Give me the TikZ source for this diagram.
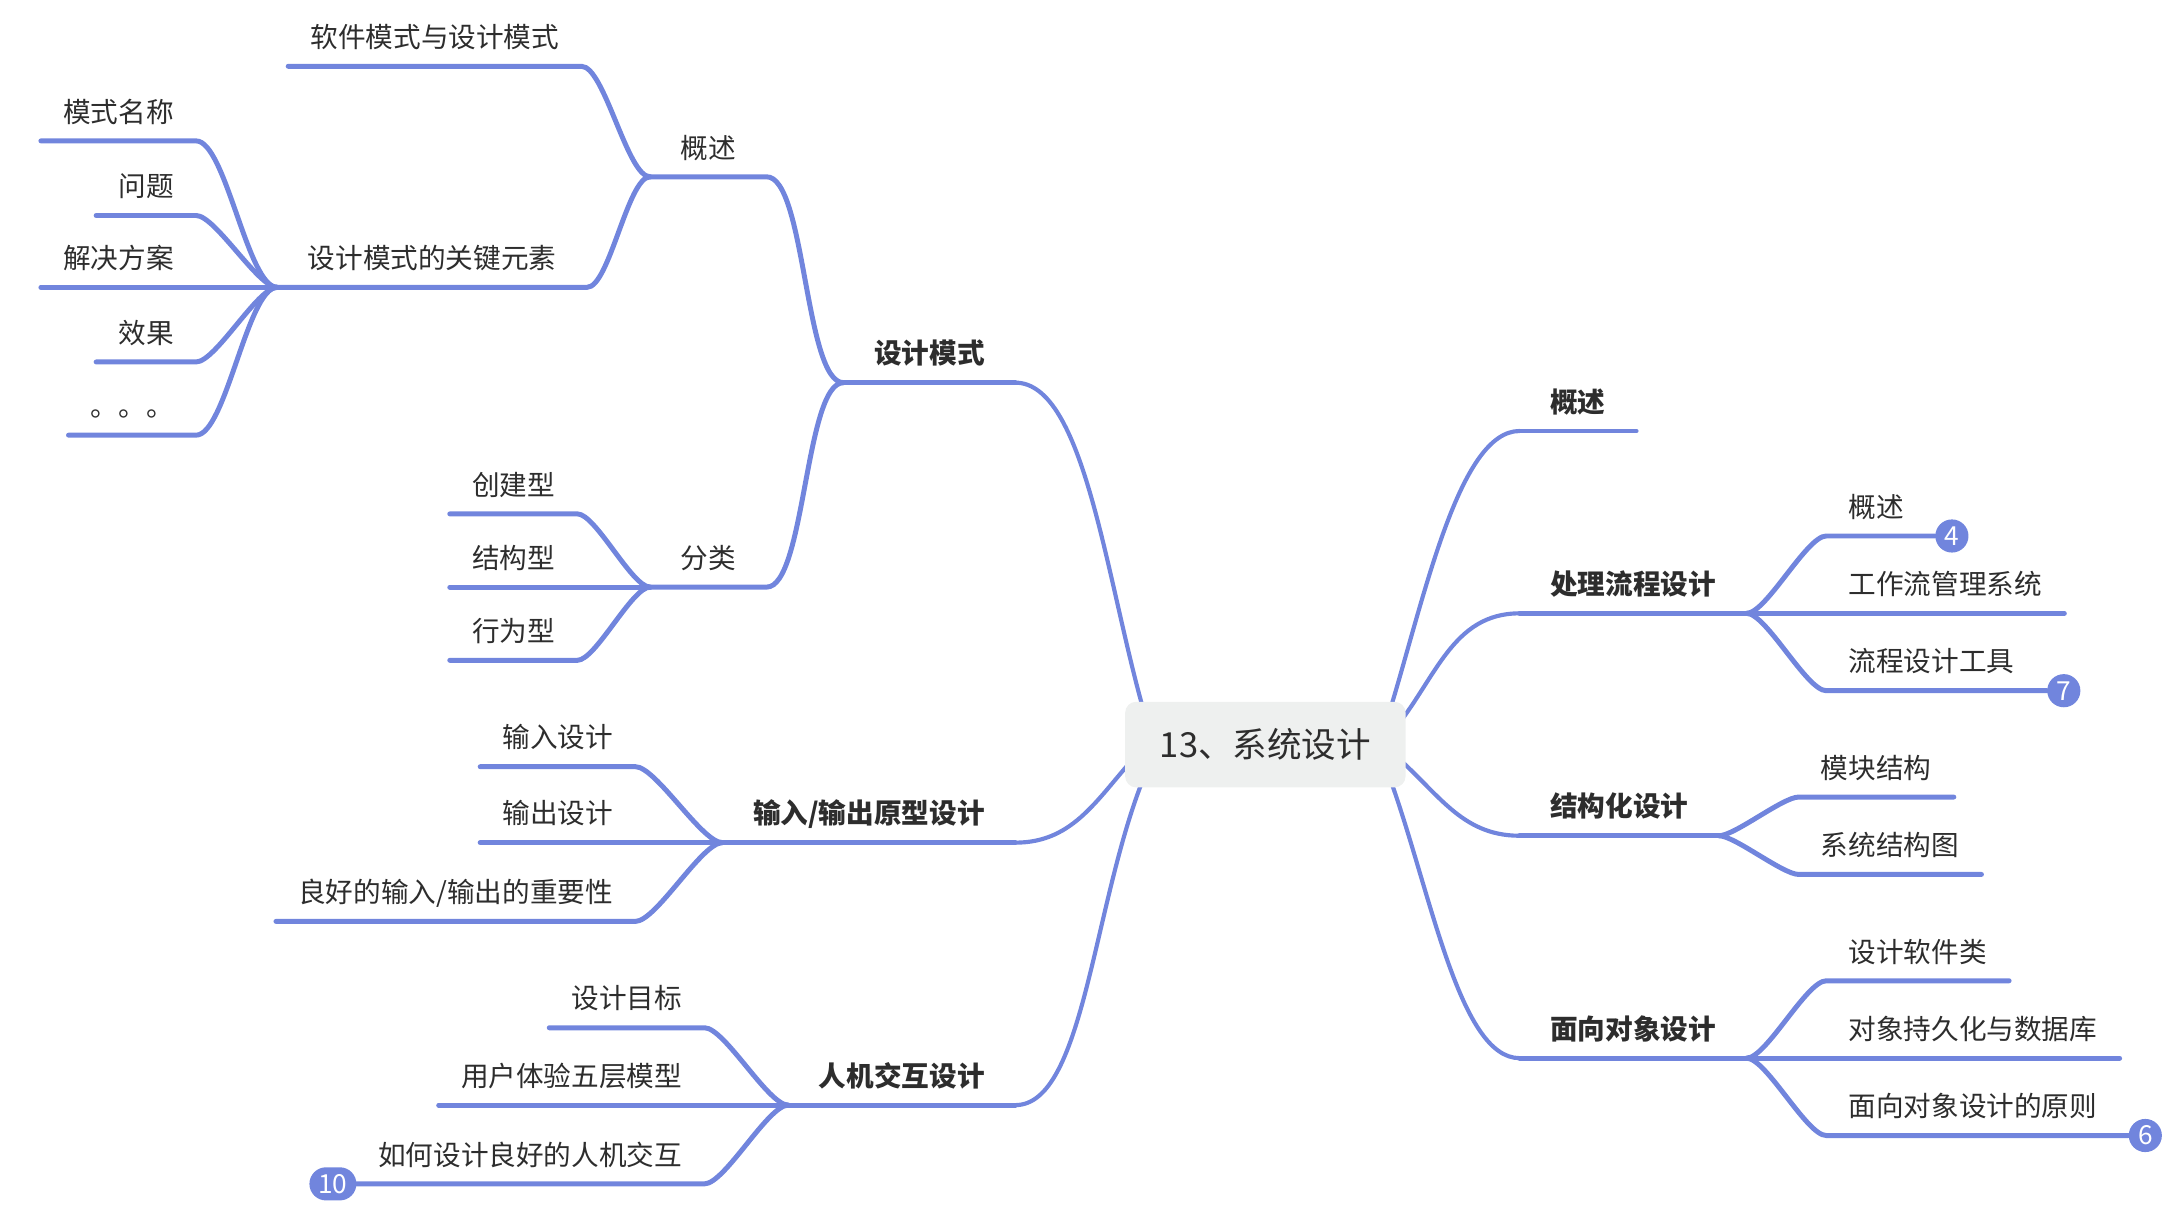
\documentclass[tikz,border=0pt]{standalone}
\usepackage{fontspec}
\setmainfont{Noto Sans CJK SC}
\usepackage{xcolor}
\usepackage{tikz}
\usetikzlibrary{positioning,backgrounds}

\definecolor{mapline}{RGB}{113,133,221}
\definecolor{rootfill}{RGB}{238,240,239}
\definecolor{mapink}{RGB}{45,45,45}

\begin{document}
\begin{tikzpicture}[x=1pt, y=1pt,
    root/.style={rectangle, fill=rootfill, rounded corners=8pt, minimum width=203pt, minimum height=62pt, font=\fontsize{25}{30}\selectfont, text=mapink},
    main/.style={inner xsep=22pt, inner ysep=11pt, text height=17.6pt, text depth=2.4pt, font=\fontsize{20}{24}\selectfont\bfseries, text=mapink},
    sub/.style={main, font=\fontsize{20}{24}\selectfont},
    leaf/.style={sub, inner xsep=16pt},
    link/.style={draw=mapline, line width=3.6pt, line cap=round},
    stem/.style={draw=mapline, line width=3pt, line cap=round},
    lfork/.style={out=0, in=180, looseness=0.45},
    rfork/.style={out=180, in=0, looseness=0.45},
    badge/.style={circle, fill=mapline, text=white, minimum size=24pt, inner sep=0pt, font=\fontsize{19}{19}\selectfont},
  ]
    \useasboundingbox (0,0) rectangle (1568,-879);

    \node[root] (root) at (916,-539) {13、系统设计};

    % Left side
    \node[main, anchor=south east] (dm) at (735,-277) {设计模式};
    \node[sub, anchor=south east] (gs) at (555,-128) {概述};
    \node[leaf, anchor=south east] (rj) at (421,-48) {软件模式与设计模式};
    \node[sub, anchor=south east] (ky) at (425,-208) {设计模式的关键元素};
    \node[leaf, anchor=south east] (mc) at (142,-102) {模式名称};
    \node[leaf, anchor=south east] (wt) at (142,-156) {问题};
    \node[leaf, anchor=south east] (jj) at (142,-208) {解决方案};
    \node[leaf, anchor=south east] (xg) at (142,-262) {效果};
    \node[leaf, anchor=south east] (dd) at (142,-315) {。。。};
    \node[sub, anchor=south east] (fl) at (555,-425) {分类};
    \node[leaf, anchor=south east] (cj) at (418,-372) {创建型};
    \node[leaf, anchor=south east] (jg) at (418,-425) {结构型};
    \node[leaf, anchor=south east] (xw) at (418,-478) {行为型};

    \node[main, anchor=south east] (io) at (735,-610) {输入/输出原型设计};
    \node[leaf, anchor=south east] (sr) at (460,-555) {输入设计};
    \node[leaf, anchor=south east] (sc) at (460,-610) {输出设计};
    \node[leaf, anchor=south east] (zy) at (460,-667) {良好的输入/输出的重要性};

    \node[main, anchor=south east] (hc) at (735,-800) {人机交互设计};
    \node[leaf, anchor=south east] (mb) at (510,-744) {设计目标};
    \node[leaf, anchor=south east] (yh) at (510,-800) {用户体验五层模型};
    \node[leaf, anchor=south east] (rh) at (510,-857) {如何设计良好的人机交互};
    \node[badge, rectangle, rounded corners=12pt, minimum width=34pt] (b10) at (241,-857) {10};

    % Right side
    \node[main, anchor=south west] (ov) at (1100,-312) {概述};
    \node[main, anchor=south west] (lc) at (1100,-444) {处理流程设计};
    \node[leaf, anchor=south west] (lcgs) at (1322,-388) {概述};
    \node[badge] (b4) at (1413,-388) {4};
    \node[leaf, anchor=south west] (gzl) at (1322,-444) {工作流管理系统};
    \node[leaf, anchor=south west] (gj) at (1322,-500) {流程设计工具};
    \node[badge] (b7) at (1494,-500) {7};

    \node[main, anchor=south west] (jgh) at (1100,-605) {结构化设计};
    \node[leaf, anchor=south west] (mk) at (1302,-577) {模块结构};
    \node[leaf, anchor=south west] (xt) at (1302,-633) {系统结构图};

    \node[main, anchor=south west] (mx) at (1100,-766) {面向对象设计};
    \node[leaf, anchor=south west] (rjl) at (1322,-710) {设计软件类};
    \node[leaf, anchor=south west] (cjh) at (1322,-766) {对象持久化与数据库};
    \node[leaf, anchor=south west] (yz) at (1322,-822) {面向对象设计的原则};
    \node[badge] (b6) at (1553,-822) {6};

    % Stems from the root
    \begin{scope}[on background layer]
      \draw[stem] ([shift={(14,-8)}]root.north west) to[out=106, in=0, in looseness=0.5] (dm.south east);
      \draw[stem] ([shift={(10,-6)}]root.west) to[out=227, in=0] (io.south east);
      \draw[stem] ([shift={(14,8)}]root.south west) to[out=248, in=0, in looseness=0.5] (hc.south east);
      \draw[stem] ([shift={(-12,-8)}]root.north east) to[out=73, in=180, in looseness=0.5] (ov.south west);
      \draw[stem] ([shift={(-10,9)}]root.east) to[out=50, in=180] (lc.south west);
      \draw[stem] ([shift={(-10,-6)}]root.east) to[out=-40, in=180] (jgh.south west);
      \draw[stem] ([shift={(-12,8)}]root.south east) to[out=-70, in=180, in looseness=0.5] (mx.south west);
    \end{scope}

    % Main topic lines
    \draw[link] (dm.south west) -- (dm.south east);
    \draw[link] (io.south west) -- (io.south east);
    \draw[link] (hc.south west) -- (hc.south east);
    \draw[link] (ov.south west) -- (ov.south east);
    \draw[link] (lc.south west) -- (lc.south east);
    \draw[link] (jgh.south west) -- (jgh.south east);
    \draw[link] (mx.south west) -- (mx.south east);

    % Left branches
    \draw[link] (gs.south west) -- (gs.south east) to[lfork] (dm.south west);
    \draw[link] (fl.south west) -- (fl.south east) to[lfork] (dm.south west);
    \draw[link] (rj.south west) -- (rj.south east) to[lfork] (gs.south west);
    \draw[link] (ky.south west) -- (ky.south east) to[lfork] (gs.south west);
    \draw[link] (mc.south west) -- (mc.south east) to[lfork] (ky.south west);
    \draw[link] (wt.south west) -- (wt.south east) to[lfork] (ky.south west);
    \draw[link] (jj.south west) -- (jj.south east) to[lfork] (ky.south west);
    \draw[link] (xg.south west) -- (xg.south east) to[lfork] (ky.south west);
    \draw[link] (dd.south west) -- (dd.south east) to[lfork] (ky.south west);
    \draw[link] (cj.south west) -- (cj.south east) to[lfork] (fl.south west);
    \draw[link] (jg.south west) -- (jg.south east) to[lfork] (fl.south west);
    \draw[link] (xw.south west) -- (xw.south east) to[lfork] (fl.south west);

    \draw[link] (sr.south west) -- (sr.south east) to[lfork] (io.south west);
    \draw[link] (sc.south west) -- (sc.south east) to[lfork] (io.south west);
    \draw[link] (zy.south west) -- (zy.south east) to[lfork] (io.south west);

    \draw[link] (mb.south west) -- (mb.south east) to[lfork] (hc.south west);
    \draw[link] (yh.south west) -- (yh.south east) to[lfork] (hc.south west);
    \draw[link] (b10) -- (rh.south west) -- (rh.south east) to[lfork] (hc.south west);

    % Right branches
    \draw[link] (b4) -- (lcgs.south east) -- (lcgs.south west) to[rfork] (lc.south east);
    \draw[link] (gzl.south east) -- (gzl.south west) to[rfork] (lc.south east);
    \draw[link] (b7) -- (gj.south east) -- (gj.south west) to[rfork] (lc.south east);

    \draw[link] (mk.south east) -- (mk.south west) to[rfork] (jgh.south east);
    \draw[link] (xt.south east) -- (xt.south west) to[rfork] (jgh.south east);

    \draw[link] (rjl.south east) -- (rjl.south west) to[rfork] (mx.south east);
    \draw[link] (cjh.south east) -- (cjh.south west) to[rfork] (mx.south east);
    \draw[link] (b6) -- (yz.south east) -- (yz.south west) to[rfork] (mx.south east);

  \end{tikzpicture}
\end{document}
